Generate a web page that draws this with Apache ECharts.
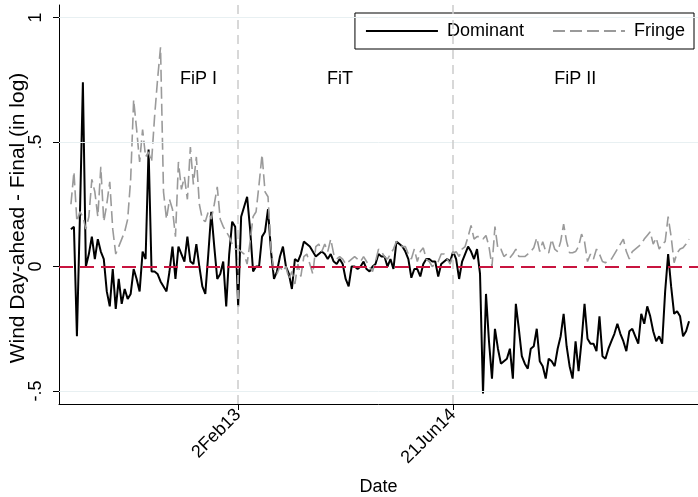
<!DOCTYPE html>
<html>
<head>
<meta charset="utf-8">
<script src="https://cdn.jsdelivr.net/npm/echarts@6/dist/echarts.min.js"></script>
<style>
html,body{margin:0;padding:0;background:#fff;}
#c{width:698px;height:497px;}
</style>
</head>
<body>
<div id="c"></div>
<script>
// x positions are days relative to 2Feb13; one observation per week
const startDay = -392;
const stepDays = 7;
const seriesNames = ['Dominant', 'Fringe'];
const dominant = [
 0.15, 0.16, -0.28, 0.2, 0.74, 0.0, 0.05, 0.12, 0.03, 0.11,
 0.06, 0.03, -0.1, -0.16, -0.01, -0.17, -0.05, -0.15, -0.09, -0.13,
 -0.11, -0.01, -0.05, -0.1, 0.06, 0.03, 0.47, -0.02, -0.02, -0.03,
 -0.06, -0.08, -0.1, -0.02, 0.08, -0.05, 0.08, 0.05, 0.02, 0.12,
 0.02, 0.01, 0.09, 0.0, -0.08, -0.11, 0.05, 0.22, 0.08, -0.05,
 -0.03, 0.02, -0.16, 0.05, 0.18, 0.16, -0.16, 0.2, 0.24, 0.28,
 0.15, -0.02, 0.0, 0.0, 0.12, 0.14, 0.23, 0.06, -0.05, -0.02,
 0.04, 0.08, 0.0, -0.03, -0.09, 0.03, 0.02, 0.05, 0.1, 0.09,
 0.08, 0.06, 0.04, 0.05, 0.06, 0.05, 0.03, 0.05, 0.02, 0.01,
 0.03, 0.01, -0.05, -0.08, 0.0, 0.0, -0.01, 0.0, 0.02, -0.01,
 -0.02, 0.0, 0.01, 0.05, 0.04, 0.04, 0.0, 0.03, -0.01, 0.1,
 0.09, 0.08, 0.06, 0.03, -0.045, -0.01, -0.01, -0.04, 0.01, 0.03,
 0.03, 0.02, 0.02, -0.04, 0.01, 0.02, 0.03, 0.02, 0.06, 0.03,
 -0.05, 0.02, 0.05, 0.08, 0.06, 0.03, 0.07, -0.03, -0.51, -0.11,
 -0.3, -0.45, -0.25, -0.33, -0.39, -0.38, -0.37, -0.33, -0.45, -0.15,
 -0.25, -0.36, -0.39, -0.41, -0.33, -0.32, -0.25, -0.38, -0.4, -0.45,
 -0.37, -0.38, -0.4, -0.33, -0.28, -0.19, -0.32, -0.4, -0.45, -0.3,
 -0.42, -0.3, -0.15, -0.29, -0.31, -0.31, -0.34, -0.2, -0.36, -0.37,
 -0.33, -0.3, -0.27, -0.23, -0.27, -0.3, -0.34, -0.26, -0.25, -0.28,
 -0.31, -0.19, -0.23, -0.16, -0.2, -0.26, -0.3, -0.28, -0.31, -0.1,
 0.05, -0.08, -0.19, -0.18, -0.2, -0.28, -0.26, -0.22
];
const fringe = [
 0.25, 0.38, 0.18, 0.22, 0.2, 0.15, 0.2, 0.35, 0.3, 0.2,
 0.4, 0.18, 0.25, 0.34, 0.15, 0.05, 0.08, 0.11, 0.14, 0.19,
 0.35, 0.67, 0.55, 0.42, 0.55, 0.44, 0.46, 0.42, 0.6, 0.75,
 0.88, 0.3, 0.19, 0.27, 0.23, 0.12, 0.42, 0.31, 0.36, 0.27,
 0.48, 0.33, 0.44, 0.25, 0.19, 0.18, 0.22, 0.19, 0.25, 0.32,
 0.19, 0.16, 0.14, 0.12, 0.09, 0.07, 0.07, 0.06, 0.05, 0.01,
 0.1, 0.2, 0.22, 0.33, 0.45, 0.3, 0.28, 0.07, -0.02, -0.03,
 0.0, -0.02, 0.0, -0.05, -0.02, -0.07, 0.01, -0.04, 0.04, 0.05,
 0.01, -0.03, 0.08, 0.09, 0.06, 0.09, 0.06, 0.11, 0.05, 0.03,
 0.04, 0.03, 0.01, 0.02, 0.03, 0.04, 0.03, 0.02, 0.04, 0.02,
 0.0, -0.02, 0.02, 0.07, 0.06, 0.04, 0.03, 0.05, 0.07, 0.1,
 0.09, 0.08, 0.08, 0.05, 0.03, 0.07, 0.02, 0.06, 0.075, 0.03,
 0.02, 0.0, 0.01, 0.02, 0.05, 0.05, 0.03, 0.01, 0.05, 0.06,
 0.04, 0.07, 0.08, 0.12, 0.165, 0.11, 0.12, 0.12, 0.11, 0.125,
 0.08, 0.0, 0.16, 0.07, 0.07, 0.04, 0.05, 0.035, 0.05, 0.07,
 0.04, 0.04, 0.04, 0.05, 0.06, 0.075, 0.115, 0.06, 0.1, 0.06,
 0.055, 0.11, 0.07, 0.06, 0.1, 0.17, 0.1, 0.055, 0.055, 0.06,
 0.08, 0.13, 0.1, 0.02, 0.05, 0.03, 0.07, 0.05, 0.02, 0.015,
 0.025, 0.03, 0.05, 0.07, 0.09, 0.11, 0.06, 0.03, 0.06, 0.07,
 0.08, 0.09, 0.11, 0.125, 0.14, 0.09, 0.115, 0.07, 0.09, 0.1,
 0.2, 0.12, 0.015, 0.055, 0.07, 0.075, 0.09, 0.11
];
const xTickValues = [0, 504];
const xTickLabels = ['2Feb13', '21Jun14'];
const yTickValues = [-0.5, 0, 0.5, 1];
const yTickLabels = ['-.5', '0', '.5', '1'];
const yTitle = 'Wind Day-ahead - Final (in log)';
const regimeBreaks = [0, 504];
const regimeNames = ['FiP I', 'FiT', 'FiP II'];
const regimeLabelX = [-93, 239, 790];
const regimeLabelY = 0.751;

const toPairs = arr => arr.map((v, i) => [startDay + stepDays * i, v]);
const FONT = '"Liberation Sans", Arial, sans-serif';

const chart = echarts.init(document.getElementById('c'), null, {renderer: 'canvas'});
chart.setOption({
  animation: false,
  backgroundColor: '#ffffff',
  textStyle: {fontFamily: FONT},
  grid: {left: 59, right: 0, top: 5, bottom: 93, containLabel: false, outerBoundsMode: 'none'},
  legend: {
    data: seriesNames,
    top: 13, right: 4,
    itemWidth: 72, itemHeight: 14, itemGap: 28,
    itemStyle: {opacity: 0},
    borderColor: '#000', borderWidth: 1, borderRadius: 0,
    padding: [9, 9, 9, 10],
    textStyle: {fontSize: 18, color: '#000', fontFamily: FONT, padding: [0, 0, 0, 4]}
  },
  graphic: [{
    type: 'text', x: 18, y: 218, silent: true,
    rotation: Math.PI / 2,
    style: {text: yTitle, fontSize: 21, fontFamily: FONT, fill: '#000', align: 'center', verticalAlign: 'middle'}
  }],
  xAxis: {
    type: 'value', min: -420, max: 1078,
    name: 'Date', nameLocation: 'middle', nameGap: 74,
    nameTextStyle: {fontSize: 18, color: '#000', fontFamily: FONT},
    axisLine: {show: true, onZero: false, lineStyle: {color: '#000', width: 1}},
    axisTick: {show: true, customValues: xTickValues, length: 6, lineStyle: {color: '#000'}},
    axisLabel: {
      customValues: xTickValues, rotate: 45, margin: 8, fontSize: 18, color: '#000', fontFamily: FONT,
      formatter: v => xTickLabels[xTickValues.indexOf(v)] || ''
    },
    splitLine: {show: false}
  },
  yAxis: {
    type: 'value', min: -0.552, max: 1.05,
    axisLine: {show: true, onZero: false, lineStyle: {color: '#000', width: 1}},
    axisTick: {show: true, customValues: yTickValues, length: 6, lineStyle: {color: '#000'}},
    axisLabel: {
      customValues: yTickValues, rotate: 90, margin: 14, fontSize: 18, color: '#000', fontFamily: FONT,
      formatter: v => { const k = yTickValues.findIndex(t => Math.abs(t - v) < 1e-9); return k >= 0 ? yTickLabels[k] : ''; }
    },
    splitLine: {show: false}
  },
  series: [
    {
      name: 'guides', type: 'line', data: [], silent: true, z: 1,
      markLine: {
        silent: true, symbol: ['none', 'none'], label: {show: false}, animation: false,
        data: yTickValues.filter(v => v !== 0).map(v => ({yAxis: v, lineStyle: {color: '#e8f0f2', width: 1, type: 'solid'}}))
          .concat(regimeBreaks.map(d => ({xAxis: d, lineStyle: {color: '#cccccc', width: 1.5, type: [9, 6]}})))
      }
    },
    {
      name: 'Dominant', type: 'line', data: toPairs(dominant), z: 3,
      symbol: 'none', showSymbol: false,
      lineStyle: {color: '#000', width: 2}, itemStyle: {color: '#000'}
    },
    {
      name: 'Fringe', type: 'line', data: toPairs(fringe), z: 4,
      symbol: 'none', showSymbol: false,
      lineStyle: {color: '#9a9a9a', width: 1.6, type: [12, 5]}, itemStyle: {color: '#9a9a9a'},
      markLine: {
        silent: true, symbol: ['none', 'none'], label: {show: false}, animation: false,
        data: [{yAxis: 0, lineStyle: {color: '#c8143f', width: 1.8, type: [14, 7]}}]
      },
      markPoint: {
        silent: true, symbol: 'circle', symbolSize: 0, animation: false,
        label: {show: true, position: 'inside', color: '#000', fontSize: 18, fontFamily: FONT, formatter: p => p.name},
        data: regimeNames.map((n, k) => ({name: n, coord: [regimeLabelX[k], regimeLabelY]}))
      }
    }
  ]
});
</script>
</body>
</html>
